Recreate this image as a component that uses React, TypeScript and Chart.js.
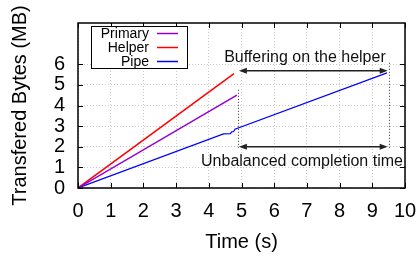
import React, { useEffect, useRef } from 'react';
import { Chart, registerables } from 'chart.js';

Chart.register(...registerables);

const SERIES_LABELS = ['Primary', 'Helper', 'Pipe'];
const SERIES_COLORS = ['#9400d3', '#ff0000', '#0000ff'];
const PRIMARY_X = [0, 4.86];
const PRIMARY_Y = [0, 4.5];
const HELPER_X = [0, 4.77];
const HELPER_Y = [0, 5.55];
const PIPE_X = [0, 4.45, 4.66, 4.7, 4.76, 4.8, 9.45];
const PIPE_Y = [0, 2.62, 2.64, 2.72, 2.74, 2.85, 5.58];

const X_TICKS = [0, 1, 2, 3, 4, 5, 6, 7, 8, 9, 10];
const Y_TICKS = [0, 1, 2, 3, 4, 5, 6];
const X_RANGE = [0, 10];
const Y_RANGE = [0, 8];

// annotations (data coordinates)
const BUFFER_ARROW_X = [4.92, 9.47];
const BUFFER_ARROW_Y = 5.68;
const COMPLETION_ARROW_X = [4.92, 9.47];
const COMPLETION_ARROW_Y = 2.0;
const LEFT_MARK_X = 4.9;
const LEFT_MARK_Y = [4.76, 1.94];
const RIGHT_MARK_X = 9.5;
const RIGHT_MARK_Y = [6.07, 1.94];
const BUFFER_TEXT = 'Buffering on the helper';
const BUFFER_TEXT_POS = [6.94, 6.3];
const COMPLETION_TEXT = 'Unbalanced completion time';
const COMPLETION_TEXT_POS = [6.85, 1.26];

const FONT = '"Liberation Sans", Arial, Helvetica, sans-serif';

function toPoints(xs: number[], ys: number[]) {
  return xs.map((x, i) => ({ x, y: ys[i] }));
}

function drawArrow(ctx: CanvasRenderingContext2D, x0: number, x1: number, y: number) {
  const head = 8;
  const half = 3;
  ctx.beginPath();
  ctx.moveTo(x0 + head - 1, y);
  ctx.lineTo(x1 - head + 1, y);
  ctx.stroke();
  ctx.beginPath();
  ctx.moveTo(x0, y);
  ctx.lineTo(x0 + head, y - half);
  ctx.lineTo(x0 + head, y + half);
  ctx.closePath();
  ctx.fill();
  ctx.beginPath();
  ctx.moveTo(x1, y);
  ctx.lineTo(x1 - head, y - half);
  ctx.lineTo(x1 - head, y + half);
  ctx.closePath();
  ctx.fill();
}

const overlayPlugin = {
  id: 'overlay',
  afterDatasetsDraw(chart: any) {
    const { ctx, chartArea: a, scales } = chart;
    const xs = scales.x;
    const ys = scales.y;
    const px = (v: number) => xs.getPixelForValue(v);
    const py = (v: number) => ys.getPixelForValue(v);
    ctx.save();

    // dotted marker lines
    ctx.strokeStyle = '#333';
    ctx.lineWidth = 1;
    ctx.setLineDash([1, 2]);
    ctx.beginPath();
    ctx.moveTo(Math.round(px(LEFT_MARK_X)) + 0.5, py(LEFT_MARK_Y[0]));
    ctx.lineTo(Math.round(px(LEFT_MARK_X)) + 0.5, py(LEFT_MARK_Y[1]));
    ctx.moveTo(Math.round(px(RIGHT_MARK_X)) + 0.5, py(RIGHT_MARK_Y[0]));
    ctx.lineTo(Math.round(px(RIGHT_MARK_X)) + 0.5, py(RIGHT_MARK_Y[1]));
    ctx.stroke();
    ctx.setLineDash([]);

    // arrows
    ctx.strokeStyle = '#222';
    ctx.fillStyle = '#222';
    ctx.lineWidth = 1.5;
    drawArrow(ctx, px(BUFFER_ARROW_X[0]), px(BUFFER_ARROW_X[1]), py(BUFFER_ARROW_Y));
    drawArrow(ctx, px(COMPLETION_ARROW_X[0]), px(COMPLETION_ARROW_X[1]), py(COMPLETION_ARROW_Y));

    // annotation texts
    ctx.fillStyle = '#111';
    ctx.font = `16px ${FONT}`;
    ctx.textAlign = 'center';
    ctx.textBaseline = 'middle';
    ctx.fillText(BUFFER_TEXT, px(BUFFER_TEXT_POS[0]), py(BUFFER_TEXT_POS[1]));
    ctx.fillText(COMPLETION_TEXT, px(COMPLETION_TEXT_POS[0]), py(COMPLETION_TEXT_POS[1]));

    // frame
    ctx.strokeStyle = '#000';
    ctx.lineWidth = 1.5;
    ctx.strokeRect(a.left, a.top, a.right - a.left, a.bottom - a.top);

    // inward tick marks on all sides
    ctx.lineWidth = 1;
    ctx.beginPath();
    X_TICKS.forEach((v) => {
      const p = Math.round(px(v)) + 0.5;
      ctx.moveTo(p, a.bottom);
      ctx.lineTo(p, a.bottom - 5);
      ctx.moveTo(p, a.top);
      ctx.lineTo(p, a.top + 5);
    });
    Y_TICKS.forEach((v) => {
      const p = Math.round(py(v)) + 0.5;
      ctx.moveTo(a.left, p);
      ctx.lineTo(a.left + 5, p);
      ctx.moveTo(a.right, p);
      ctx.lineTo(a.right - 5, p);
    });
    ctx.stroke();

    // legend box
    const lx = a.left + 13;
    const ly = a.top + 3;
    const lw = 96;
    const lh = 42;
    ctx.fillStyle = '#fff';
    ctx.fillRect(lx, ly, lw, lh);
    ctx.strokeStyle = '#000';
    ctx.lineWidth = 1;
    ctx.strokeRect(lx + 0.5, ly + 0.5, lw, lh);
    ctx.font = `14px ${FONT}`;
    ctx.textAlign = 'right';
    ctx.textBaseline = 'middle';
    chart.data.datasets.forEach((ds: any, i: number) => {
      const rowY = ly + 7.5 + i * 14;
      ctx.fillStyle = '#000';
      ctx.fillText(ds.label, lx + 58, rowY + 1);
      ctx.strokeStyle = ds.borderColor;
      ctx.lineWidth = 1.5;
      ctx.beginPath();
      ctx.moveTo(lx + 66, rowY);
      ctx.lineTo(lx + 87, rowY);
      ctx.stroke();
    });

    ctx.restore();
  },
};

export default function App() {
  const ref = useRef<HTMLCanvasElement | null>(null);

  useEffect(() => {
    document.body.style.margin = '0';
    if (!ref.current) return;
    const chart = new Chart(ref.current, {
      type: 'scatter',
      data: {
        datasets: [
          { label: SERIES_LABELS[0], data: toPoints(PRIMARY_X, PRIMARY_Y) },
          { label: SERIES_LABELS[1], data: toPoints(HELPER_X, HELPER_Y) },
          { label: SERIES_LABELS[2], data: toPoints(PIPE_X, PIPE_Y) },
        ].map((d, i) => ({
          ...d,
          showLine: true,
          borderColor: SERIES_COLORS[i],
          backgroundColor: SERIES_COLORS[i],
          borderWidth: i === 2 ? 1.2 : 1.5,
          pointRadius: 0,
          pointHoverRadius: 0,
          tension: 0,
        })),
      },
      options: {
        animation: false,
        responsive: false,
        maintainAspectRatio: false,
        events: [],
        layout: { padding: { left: 0, top: 23, right: 14, bottom: 0 } },
        plugins: { legend: { display: false }, tooltip: { enabled: false } },
        scales: {
          x: {
            type: 'linear',
            min: X_RANGE[0],
            max: X_RANGE[1],
            afterBuildTicks: (axis: any) => {
              axis.ticks = X_TICKS.map((v) => ({ value: v }));
            },
            afterFit: (axis: any) => {
              axis.height = 70;
              axis.paddingLeft = 0;
              axis.paddingRight = 0;
            },
            grid: { color: '#c8c8c8', lineWidth: 1, drawTicks: false },
            border: { display: false, dash: [1, 2] },
            ticks: {
              color: '#000',
              font: { family: FONT, size: 20 },
              padding: 11,
              maxRotation: 0,
              autoSkip: false,
            },
            title: {
              display: true,
              text: 'Time (s)',
              color: '#000',
              font: { family: FONT, size: 20 },
              padding: { top: 0, bottom: 4 },
            },
          },
          y: {
            type: 'linear',
            min: Y_RANGE[0],
            max: Y_RANGE[1],
            afterBuildTicks: (axis: any) => {
              axis.ticks = Y_TICKS.map((v) => ({ value: v }));
            },
            afterFit: (axis: any) => {
              axis.width = 78;
              axis.paddingTop = 0;
              axis.paddingBottom = 0;
            },
            grid: { color: '#c8c8c8', lineWidth: 1, drawTicks: false },
            border: { display: false, dash: [1, 2] },
            ticks: {
              color: '#000',
              font: { family: FONT, size: 20 },
              padding: 13,
              autoSkip: false,
            },
            title: {
              display: true,
              text: 'Transfered Bytes (MB)',
              color: '#000',
              font: { family: FONT, size: 20 },
              padding: { top: 8, bottom: 0 },
            },
          },
        },
      },
      plugins: [overlayPlugin],
    });
    return () => chart.destroy();
  }, []);

  return (
    <div style={{ width: 419, height: 258 }}>
      <canvas ref={ref} width={419} height={258} style={{ display: 'block', width: 419, height: 258 }} />
    </div>
  );
}
